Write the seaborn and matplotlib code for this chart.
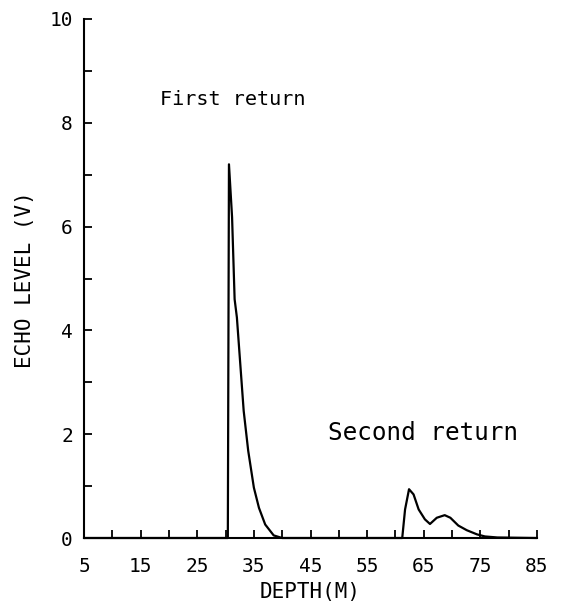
import matplotlib
matplotlib.use("Agg")
import matplotlib.pyplot as plt
import seaborn as sns
import pandas as pd

# Data
depth_m = [5.0, 30.4, 30.6, 31.15, 31.6, 32.0, 32.6, 33.2, 34.0, 35.0, 35.9,
           37.0, 38.5, 40.0, 61.2, 61.7, 62.4, 63.2, 64.1, 65.2, 66.1, 67.3,
           68.7, 69.7, 71.1, 72.6, 74.4, 75.8, 78.0, 85.0]
echo_v = [0.0, 0.0, 7.2, 6.18, 4.6, 4.25, 3.35, 2.45, 1.68, 0.97, 0.58,
          0.26, 0.05, 0.0, 0.0, 0.55, 0.94, 0.84, 0.55, 0.36, 0.27, 0.39,
          0.44, 0.39, 0.24, 0.15, 0.07, 0.03, 0.01, 0.0]
x_tick_labels = [5, 15, 25, 35, 45, 55, 65, 75, 85]
x_minor_ticks = [10, 20, 30, 40, 50, 60, 70, 80]
y_tick_labels = [0, 2, 4, 6, 8, 10]
y_minor_ticks = [1, 3, 5, 7, 9]
annotations = [("First return", 31.3, 8.45), ("Second return", 64.9, 2.03)]

sns.set_style("ticks")
plt.rcParams['font.family'] = ['DejaVu Sans Mono', 'DejaVu Sans']
plt.rcParams['text.color'] = 'black'
plt.rcParams['axes.labelcolor'] = 'black'
plt.rcParams['xtick.color'] = 'black'
plt.rcParams['ytick.color'] = 'black'

fig = plt.figure(figsize=(5.62, 6.06), dpi=100)
ax = fig.add_axes([84 / 562, 1 - 538 / 606, 453 / 562, 519 / 606])

df = pd.DataFrame({"depth": depth_m, "echo": echo_v})
sns.lineplot(data=df, x="depth", y="echo", ax=ax, color="black",
             linewidth=1.6, estimator=None, sort=False, clip_on=False)

ax.set_xlim(5, 85)
ax.set_ylim(0, 10)
ax.set_xticks(x_tick_labels)
ax.set_xticks(x_minor_ticks, minor=True)
ax.set_yticks(y_tick_labels)
ax.set_yticks(y_minor_ticks, minor=True)
ax.tick_params(axis="both", which="both", direction="in", length=6,
               width=1.3, colors="black", labelsize=14)
ax.tick_params(axis="x", which="major", pad=14)
ax.tick_params(axis="y", which="major", pad=8)

for side in ["top", "right"]:
    ax.spines[side].set_visible(False)
for side in ["left", "bottom"]:
    ax.spines[side].set_linewidth(1.5)
    ax.spines[side].set_color("black")

ax.set_xlabel("DEPTH(M)", fontsize=15)
ax.set_ylabel("ECHO LEVEL (V)", fontsize=15)
ax.xaxis.set_label_coords(0.5, -0.085)
ax.yaxis.set_label_coords(-0.108, 0.5 + (538 - 280 - 259.5) / 519)

for (txt, xx, yy), fs in zip(annotations, [14.5, 17.5]):
    ax.text(xx, yy, txt, fontsize=fs, ha="center", va="center", color="black")

fig.savefig("out.png", dpi=100)
